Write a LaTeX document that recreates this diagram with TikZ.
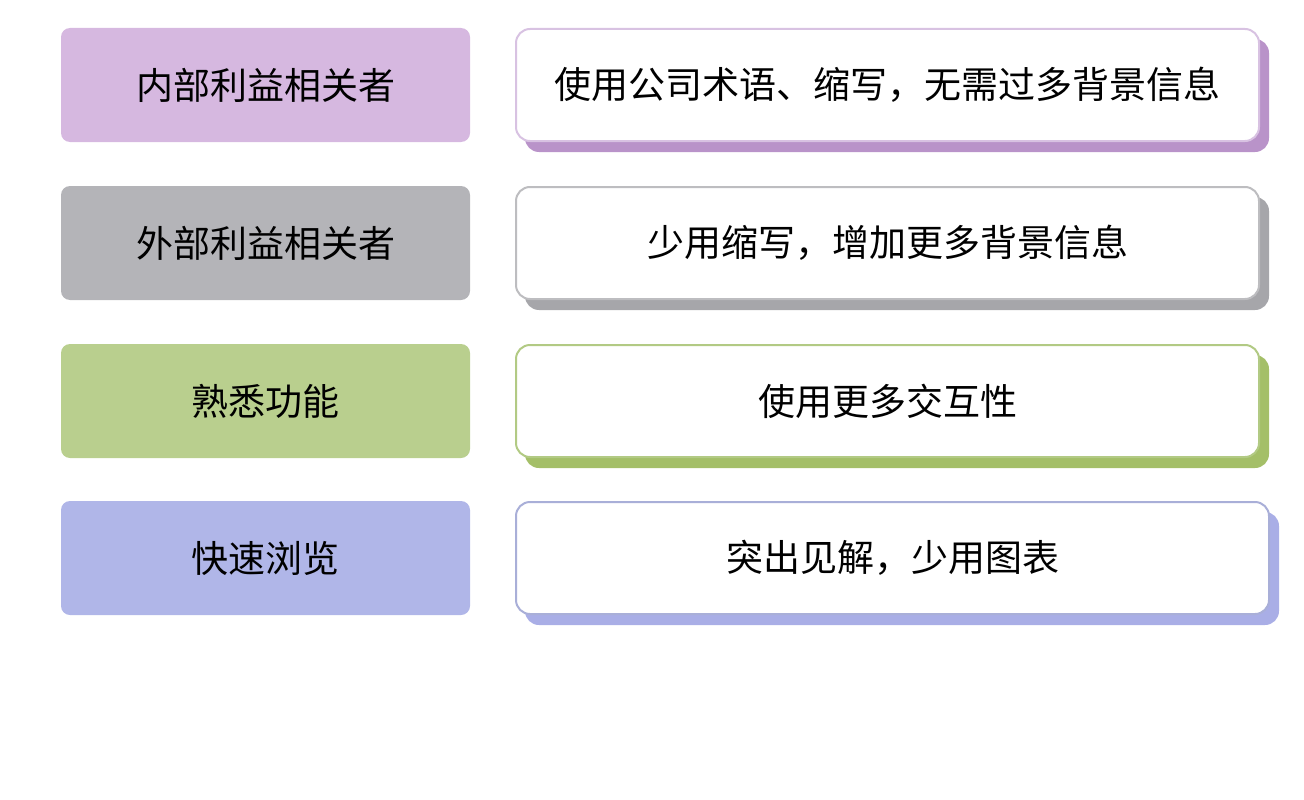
\documentclass[tikz,border=0pt]{standalone}
\usepackage{fontspec}
\setmainfont{Noto Sans CJK SC}
\begin{document}
\begin{tikzpicture}[x=1pt,y=-1pt,
 lab/.style={rounded corners=9pt,minimum height=114pt,font=\fontsize{37}{40}\selectfont,inner sep=0pt},
 desc/.style={rounded corners=14pt,fill=white,line width=2pt,minimum height=112pt,font=\fontsize{37}{40}\selectfont,inner sep=0pt}]
\useasboundingbox (0,0) rectangle (1304,800);
\definecolor{p1}{HTML}{D6B8E0}\definecolor{p1s}{HTML}{B993C9}\definecolor{p1b}{HTML}{D8C2E2}
\definecolor{g1}{HTML}{B4B4B8}\definecolor{g1s}{HTML}{A6A6AA}\definecolor{g1b}{HTML}{BDBDC0}
\definecolor{v1}{HTML}{B9CF8E}\definecolor{v1s}{HTML}{A4BF68}\definecolor{v1b}{HTML}{B2CA84}
\definecolor{b1}{HTML}{B0B6E8}\definecolor{b1s}{HTML}{A9AEE6}\definecolor{b1b}{HTML}{A9AFD8}
\foreach \y/\c/\l/\r/\w in {85/p1/内部利益相关者/使用公司术语、缩写，无需过多背景信息/743,
 243/g1/外部利益相关者/少用缩写，增加更多背景信息/743,
 401/v1/熟悉功能/使用更多交互性/743,
 558/b1/快速浏览/突出见解，少用图表/753}{
 \node[lab,fill=\c,minimum width=409pt] (L\y) at (265.5,\y) {\l};
 \fill[\c s,rounded corners=14pt] (525,\y-46) rectangle (515+\w+11,\y+67);
 \node[desc,draw=\c b,minimum width=\w pt,anchor=west] (R\y) at (515,\y) {\r};
}
\end{tikzpicture}
\end{document}
